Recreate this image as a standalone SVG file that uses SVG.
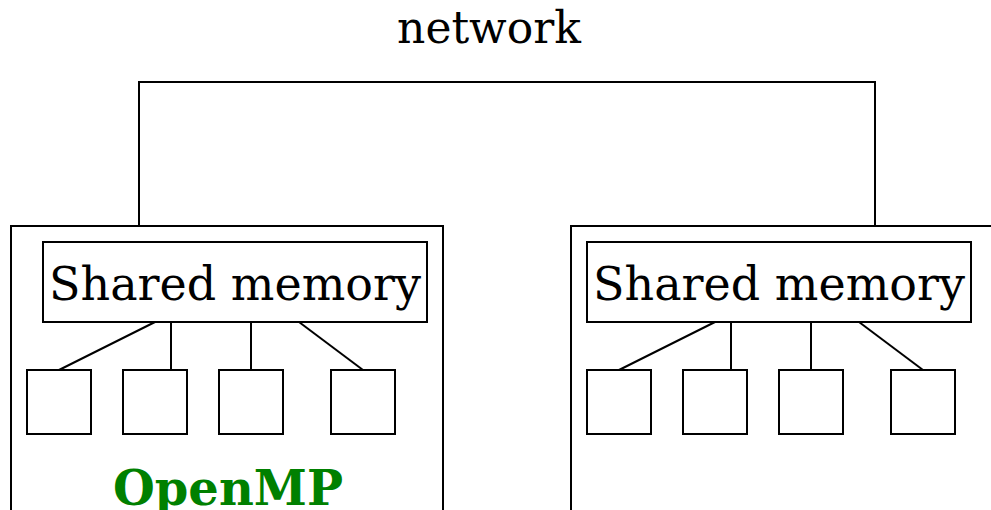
<svg xmlns="http://www.w3.org/2000/svg" width="991" height="510" viewBox="0 0 991 510">
<style>
.box{fill:#fff;stroke:#000;stroke-width:2}
.ln{fill:none;stroke:#000;stroke-width:2}
.t{font-family:"DejaVu Serif",serif;fill:#000;text-anchor:middle}
.sm{font-size:46px}
</style>
<rect width="991" height="510" fill="#fff"/>
<text class="t" x="489" y="43" font-size="44">network</text>
<g id="node-left">
<rect class="box" x="11" y="226" width="432" height="300"/>
<text x="228" y="505" font-family="DejaVu Serif,serif" font-weight="bold" font-size="48" fill="#008000" text-anchor="middle">OpenMP</text>
</g>
<g id="node-right">
<rect class="box" x="571" y="226" width="440" height="300"/>
</g>
<g id="mem-left">
<rect class="box" x="43" y="242" width="384" height="80"/>
<text class="t sm" x="235" y="300">Shared memory</text>
</g>
<g id="mem-right">
<rect class="box" x="587" y="242" width="384" height="80"/>
<text class="t sm" x="779" y="300">Shared memory</text>
</g>
<g id="cores-left">
<rect class="box" x="27" y="370" width="64" height="64"/>
<rect class="box" x="123" y="370" width="64" height="64"/>
<rect class="box" x="219" y="370" width="64" height="64"/>
<rect class="box" x="331" y="370" width="64" height="64"/>
</g>
<g id="cores-right">
<rect class="box" x="587" y="370" width="64" height="64"/>
<rect class="box" x="683" y="370" width="64" height="64"/>
<rect class="box" x="779" y="370" width="64" height="64"/>
<rect class="box" x="891" y="370" width="64" height="64"/>
</g>
<g id="connectors">
<polyline class="ln" points="139,226 139,82 875,82 875,226"/>
<line class="ln" x1="155" y1="322" x2="59" y2="370"/>
<line class="ln" x1="171" y1="322" x2="171" y2="370"/>
<line class="ln" x1="251" y1="322" x2="251" y2="370"/>
<line class="ln" x1="299" y1="322" x2="363" y2="370"/>
<line class="ln" x1="715" y1="322" x2="619" y2="370"/>
<line class="ln" x1="731" y1="322" x2="731" y2="370"/>
<line class="ln" x1="811" y1="322" x2="811" y2="370"/>
<line class="ln" x1="859" y1="322" x2="923" y2="370"/>
</g>
</svg>
